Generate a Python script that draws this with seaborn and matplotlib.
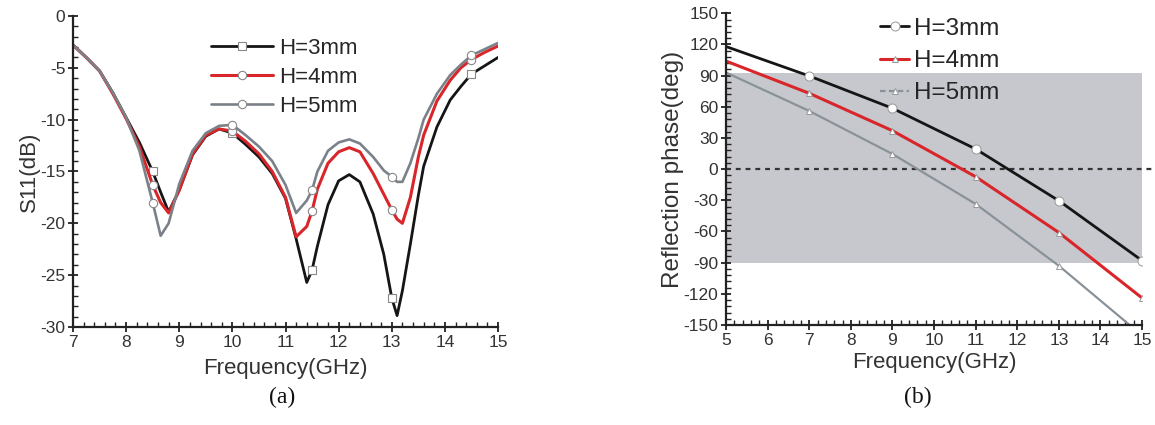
import numpy as np
import pandas as pd
import matplotlib
matplotlib.use("Agg")
import matplotlib.pyplot as plt
from matplotlib.ticker import MultipleLocator, AutoMinorLocator
import seaborn as sns

# ---------------- (a) S11 versus frequency ----------------
freq_a = [7.0, 7.25, 7.5, 7.75, 8.0, 8.25, 8.5, 8.65, 8.8, 9.0, 9.25, 9.5, 9.75,
          10.0, 10.25, 10.5, 10.75, 11.0, 11.2, 11.4, 11.5, 11.6, 11.8, 12.0,
          12.2, 12.4, 12.65, 12.85, 13.0, 13.1, 13.2, 13.35, 13.5, 13.6, 13.85,
          14.1, 14.3, 14.5, 14.75, 15.0]
s11_h3 = [-2.8, -4.0, -5.3, -7.4, -9.8, -12.2, -15.0, -17.0, -18.9, -16.8, -13.4,
          -11.6, -10.9, -11.3, -12.4, -13.6, -15.2, -17.6, -21.5, -25.7, -24.5,
          -22.2, -18.2, -15.9, -15.3, -16.0, -19.1, -23.0, -27.2, -28.9, -26.5,
          -22.0, -17.3, -14.5, -10.7, -8.1, -6.8, -5.6, -4.8, -4.0]
s11_h4 = [-2.8, -4.0, -5.3, -7.5, -9.9, -12.6, -16.3, -18.0, -19.0, -16.8, -13.3,
          -11.5, -10.9, -11.1, -12.1, -13.3, -15.0, -17.5, -21.3, -20.3, -18.8,
          -16.7, -14.2, -13.1, -12.7, -13.1, -15.2, -17.2, -18.7, -19.6, -20.0,
          -17.5, -13.6, -11.5, -8.2, -6.2, -5.0, -4.2, -3.5, -2.9]
s11_h5 = [-2.8, -4.0, -5.3, -7.4, -9.8, -13.0, -18.0, -21.2, -20.0, -16.2, -13.0,
          -11.3, -10.6, -10.5, -11.5, -12.6, -14.0, -16.3, -19.0, -17.8, -16.8,
          -15.0, -13.0, -12.2, -11.9, -12.3, -13.6, -14.9, -15.5, -16.0, -16.0,
          -14.2, -11.8, -10.0, -7.5, -5.7, -4.7, -3.8, -3.2, -2.6]
marker_freq_a = [8.5, 10.0, 11.5, 13.0, 14.5]

# ---------------- (b) reflection phase versus frequency ----------------
freq_b = [5, 7, 9, 11, 13, 15]
phase_h3 = [118, 89.7, 58.6, 19.4, -30.4, -88]
phase_h4 = [104, 73, 37, -7.3, -61, -124]
phase_h5 = [93, 56, 14.6, -33.5, -93, -160]
band_low, band_high = -90, 93

labels = ["H=3mm", "H=4mm", "H=5mm"]

sns.set_theme(style="ticks")
plt.rcParams["font.family"] = ["Liberation Sans", "DejaVu Sans"]
text_color = "#333333"
plt.rcParams.update({
    "axes.unicode_minus": False,
    "axes.edgecolor": "#222222",
    "axes.linewidth": 1.6,
    "xtick.color": "#222222",
    "ytick.color": "#222222",
    "xtick.labelcolor": text_color,
    "ytick.labelcolor": text_color,
})

fig = plt.figure(figsize=(11.55, 4.25), dpi=100)
ax_a = fig.add_axes([0.0632, 0.2306, 0.368, 0.7318])
ax_b = fig.add_axes([0.6286, 0.2353, 0.3602, 0.7334])

df_a = pd.DataFrame({"f": freq_a, "h3": s11_h3, "h4": s11_h4, "h5": s11_h5})
mk_idx = [freq_a.index(v) for v in marker_freq_a]

styles_a = [
    ("h3", "#151515", 2.0, "s"),
    ("h4", "#d8262a", 2.2, "o"),
    ("h5", "#7a8188", 1.9, "o"),
]
for (col, color, lw, mk), lab in zip(styles_a, labels):
    sns.lineplot(data=df_a, x="f", y=col, ax=ax_a, color=color, lw=lw,
                 sort=False, estimator=None, label=lab,
                 marker=mk, markevery=mk_idx, markersize=6,
                 markerfacecolor="white", markeredgecolor="#888888",
                 markeredgewidth=0.8)

ax_a.set_xlim(7, 15)
ax_a.set_ylim(-30, 0)
ax_a.xaxis.set_major_locator(MultipleLocator(1))
ax_a.xaxis.set_minor_locator(AutoMinorLocator(5))
ax_a.yaxis.set_major_locator(MultipleLocator(5))
ax_a.yaxis.set_minor_locator(AutoMinorLocator(5))
ax_a.set_xlabel("Frequency(GHz)", fontsize=16, color=text_color, labelpad=6)
ax_a.set_ylabel("S11(dB)", fontsize=16, color=text_color, labelpad=0)
ax_a.legend(loc="upper left", bbox_to_anchor=(0.325, 0.93), frameon=False,
            fontsize=16, handlelength=2.8, handletextpad=0.25,
            labelspacing=0.36, borderpad=0, borderaxespad=0)

# ---- panel (b)
df_b = pd.DataFrame({"f": freq_b, "h3": phase_h3, "h4": phase_h4, "h5": phase_h5})
ax_b.axhspan(band_low, band_high, color="#c6c8ce", zorder=0, lw=0)
ax_b.axhline(0, xmin=0, xmax=1.03, color="#333333", lw=1.6,
             ls=(0, (2.2, 2.2)), clip_on=False, zorder=1)

styles_b = [
    ("h3", "#151515", 2.0, "o", 6.5),
    ("h4", "#d8262a", 2.2, "^", 5),
    ("h5", "#8a9299", 1.6, "^", 4),
]
for (col, color, lw, mk, ms), lab in zip(styles_b, labels):
    sns.lineplot(data=df_b, x="f", y=col, ax=ax_b, color=color, lw=lw,
                 sort=False, estimator=None, label=lab,
                 marker=mk, markevery=list(range(1, len(freq_b))), markersize=ms,
                 markerfacecolor="white", markeredgecolor="#999999",
                 markeredgewidth=0.7, zorder=3)

ax_b.set_xlim(5, 15)
ax_b.set_ylim(-150, 150)
ax_b.xaxis.set_major_locator(MultipleLocator(1))
ax_b.xaxis.set_minor_locator(AutoMinorLocator(5))
ax_b.yaxis.set_major_locator(MultipleLocator(30))
ax_b.yaxis.set_minor_locator(AutoMinorLocator(5))
ax_b.set_xlabel("Frequency(GHz)", fontsize=16, color=text_color, labelpad=3)
ax_b.set_ylabel("Reflection phase(deg)", fontsize=17.5, color=text_color, labelpad=0)
leg_b = ax_b.legend(loc="upper left", bbox_to_anchor=(0.37, 0.985), frameon=False,
                    fontsize=17.5, handlelength=1.2, handletextpad=0.2,
                    labelspacing=0.42, borderpad=0, borderaxespad=0)
leg_b.get_lines()[2].set_linestyle((0, (2.5, 1.5)))

for ax in (ax_a, ax_b):
    sns.despine(ax=ax)
    ax.tick_params(axis="both", which="major", direction="inout", length=7,
                   width=1.3, labelsize=12.5, pad=2)
    ax.tick_params(axis="both", which="minor", direction="in", length=3.5,
                   width=1.0)
    ax.spines["left"].set_zorder(5)
    ax.spines["bottom"].set_zorder(5)

fig.text(282 / 1155, 1 - 397 / 425, "(a)", ha="center", va="center",
         fontsize=17, family="Liberation Serif", color="#111111")
fig.text(918 / 1155, 1 - 397 / 425, "(b)", ha="center", va="center",
         fontsize=17, family="Liberation Serif", color="#111111")

fig.savefig("out.png", dpi=100, facecolor="white")
